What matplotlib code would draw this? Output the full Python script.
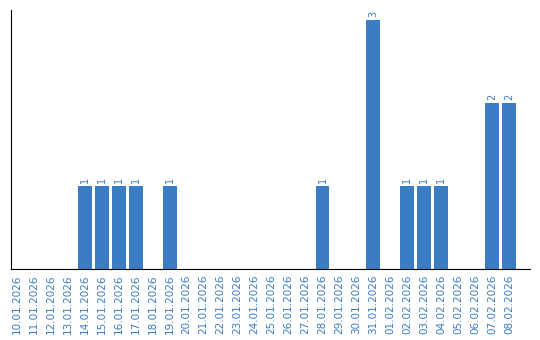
import matplotlib
matplotlib.use("Agg")
import matplotlib.pyplot as plt

dates = ["10.01.2026", "11.01.2026", "12.01.2026", "13.01.2026", "14.01.2026",
         "15.01.2026", "16.01.2026", "17.01.2026", "18.01.2026", "19.01.2026",
         "20.01.2026", "21.01.2026", "22.01.2026", "23.01.2026", "24.01.2026",
         "25.01.2026", "26.01.2026", "27.01.2026", "28.01.2026", "29.01.2026",
         "30.01.2026", "31.01.2026", "01.02.2026", "02.02.2026", "03.02.2026",
         "04.02.2026", "05.02.2026", "06.02.2026", "07.02.2026", "08.02.2026"]
counts = [0, 0, 0, 0, 1, 1, 1, 1, 0, 1,
          0, 0, 0, 0, 0, 0, 0, 0, 1, 0,
          0, 3, 0, 1, 1, 1, 0, 0, 2, 2]

bar_color = "#3b7dc2"
text_color = "#3a7cc0"

fig = plt.figure(figsize=(5.4, 3.4), dpi=100)
ax = fig.add_axes([0.020, 0.209, 0.961, 0.762])

x = list(range(len(dates)))
ax.bar(x, counts, width=0.82, color=bar_color)
for xi, c in zip(x, counts):
    if c > 0:
        ax.text(xi, c + 0.03, str(c), rotation=90, ha="center", va="bottom",
                fontsize=7, color=text_color)

ax.set_xlim(-0.35, 30.2)
ax.set_ylim(0, 3.12)
ax.set_xticks(x)
ax.set_xticklabels(dates, rotation=90, fontsize=7.5, color=text_color)
ax.tick_params(axis="x", length=0, pad=4)
ax.set_yticks([])
ax.spines["top"].set_visible(False)
ax.spines["right"].set_visible(False)

fig.savefig("out.png", dpi=100)
